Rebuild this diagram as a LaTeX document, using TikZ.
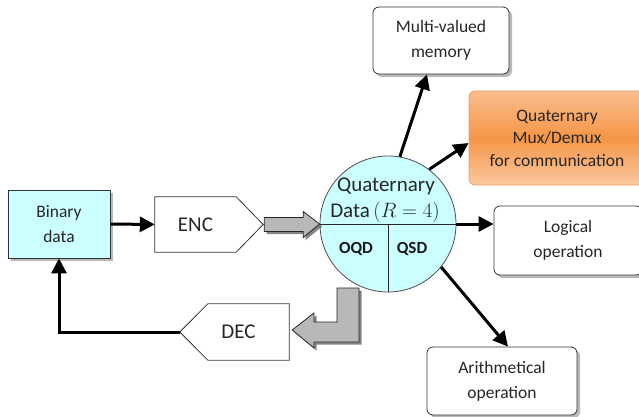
\documentclass[tikz,border=0pt]{standalone}
\usepackage{fontspec}
\setmainfont{Carlito}
\usetikzlibrary{shadows,calc,arrows.meta}
\definecolor{lcyan}{HTML}{CCFFFF}
\definecolor{orT}{HTML}{F9BE8F}
\definecolor{orM}{HTML}{F69546}
\definecolor{orB}{HTML}{FAC8A0}
\definecolor{orD}{HTML}{F0A060}
\begin{document}
\begin{tikzpicture}[x=1pt,y=-1pt,
  txt/.style={text=black!85, font=\fontsize{17.5}{25}\selectfont, align=center},
  box/.style={txt, draw=black!80, line width=0.8pt, fill=white,
    drop shadow={shadow xshift=3pt,shadow yshift=-3pt,fill=black!50,opacity=0.55}},
  rbox/.style={box, rounded corners=6pt},
  shapeline/.style={draw=black!80, line width=0.8pt, fill=white},
  conn/.style={line width=3pt, -{Triangle[length=15pt,width=15pt]}},
  blockarrow/.style={draw=black!85, line width=0.8pt, fill=black!28,
    drop shadow={shadow xshift=2.5pt,shadow yshift=-2.5pt,fill=black!60,opacity=0.8}},
  bigtxt/.style={text=black!85, font=\fontsize{21}{25}\selectfont},
  halftxt/.style={text=black!90, font=\bfseries\fontsize{17}{20}\selectfont}
]
\useasboundingbox (0,0) rectangle (639,417);

% Binary data
\node[box, fill=lcyan, minimum width=102pt, minimum height=68pt] (bin) at (59,224) {Binary\\data};

% ENC
\node[minimum width=81pt, minimum height=55pt, inner sep=0] (enc) at (195.5,224.5) {};
\draw[shapeline] (enc.north west) -- (enc.north east) -- ($(enc.east)+(27,0)$) coordinate (enctip)
  -- (enc.south east) -- (enc.south west) -- cycle;
\node[bigtxt] (enctext) at (enc.center) {ENC};

% DEC
\node[minimum width=109pt, minimum height=56pt, inner sep=0] (dec) at (234.5,332) {};
\draw[shapeline] (dec.west) -- ($(dec.north west)+(28,0)$) -- (dec.north east)
  -- (dec.south east) -- ($(dec.south west)+(28,0)$) -- cycle;
\node[bigtxt] (dectext) at ($(dec.center)+(4,0)$) {DEC};

% Quaternary circle
\node[circle, draw=black!70, line width=0.8pt, fill=lcyan, minimum size=136pt, inner sep=0] (q) at (388,224) {};
\draw[line width=0.8pt, black!85] (q.west) -- (q.east);
\draw[line width=0.8pt, black!85] (q.center) -- (q.south);
\node[bigtxt] (qt1) at (386,186) {Quaternary};
\node[bigtxt] (qt2) at (385,212.5) {Data\,$(R=4)$};
\node[halftxt] (oqd) at (356,249) {OQD};
\node[halftxt] (qsd) at (412,249) {QSD};

% Output boxes
\node[rbox, minimum width=136pt, minimum height=67pt] (mem) at (441,40.5) {Multi-valued\\memory};
\node[txt, font=\fontsize{17.5}{22.5}\selectfont, rounded corners=6pt, draw=orD, line width=0.8pt,
  top color=orT, bottom color=orB, middle color=orM,
  minimum width=176pt, minimum height=94pt] (mux) at (557,138) {Quaternary\\Mux/Demux\\for communication};
\node[rbox, minimum width=148pt, minimum height=69pt] (log) at (568,240.5) {Logical\\operation};
\node[rbox, minimum width=150pt, minimum height=68pt] (ari) at (502,381) {Arithmetical\\operation};

% Connectors
\draw[conn] (bin.east) -- (enc.west);
\draw[conn] (dec.west) -| (bin.south);
\draw[conn] (q.80) -- ($(mem.south)+(-14,0)$);
\draw[conn] (q.53) -- ($(mux.west)+(0,5)$);
\draw[conn] (q.east) -- (q.east -| log.west);
\draw[conn] (q.-39) -- ($(ari.north)+(6,0)$);

% Block arrows
\coordinate (ba1s) at ($(enctip)+(1,0)$);
\draw[blockarrow] ($(ba1s)+(0,-7)$) -- ($(ba1s)+(39,-7)$) -- ($(ba1s)+(39,-13)$) -- (q.west)
  -- ($(ba1s)+(39,13)$) -- ($(ba1s)+(39,7)$) -- ($(ba1s)+(0,7)$) -- cycle;
\draw[blockarrow] (337,288) -- (359,288) -- (359,342) -- (314,342) -- (314,348)
  -- ($(dec.east)+(3,-2)$) -- (314,313) -- (314,322) -- (337,322) -- cycle;
\end{tikzpicture}
\end{document}
